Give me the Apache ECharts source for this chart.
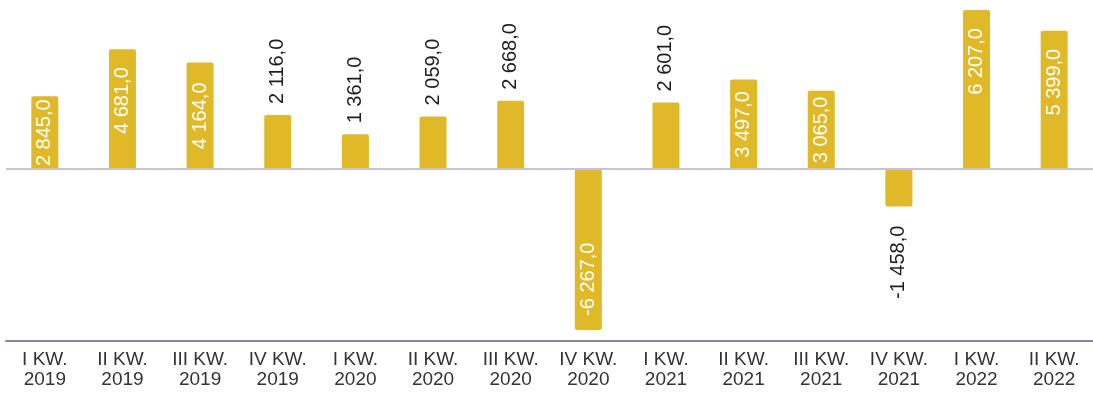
<!DOCTYPE html>
<html>
<head>
<meta charset="utf-8">
<script src="https://cdn.jsdelivr.net/npm/echarts@6/dist/echarts.min.js"></script>
<style>
  html, body { margin: 0; padding: 0; background: #ffffff; }
  #chart { width: 1093px; height: 397px; }
</style>
</head>
<body>
<div id="chart"></div>
<script>
// Quarter labels (two lines: quarter / year)
const quarters = ['I KW.', 'II KW.', 'III KW.', 'IV KW.', 'I KW.', 'II KW.', 'III KW.', 'IV KW.',
                  'I KW.', 'II KW.', 'III KW.', 'IV KW.', 'I KW.', 'II KW.'];
const years = ['2019', '2019', '2019', '2019', '2020', '2020', '2020', '2020',
               '2021', '2021', '2021', '2021', '2022', '2022'];
// Quarterly values
const values = [2845.0, 4681.0, 4164.0, 2116.0, 1361.0, 2059.0, 2668.0, -6267.0,
                2601.0, 3497.0, 3065.0, -1458.0, 6207.0, 5399.0];

const categories = quarters.map((q, i) => q + '\n' + years[i]);

const BAR = '#e0b929';
const FONT = 'Liberation Sans, Arial, sans-serif';
const INSIDE_MIN = 2700;   // bars at least this tall carry their label inside

function fmt(v) {
  const neg = v < 0;
  const a = Math.abs(v).toFixed(1).split('.');
  const int = a[0].replace(/\B(?=(\d{3})+(?!\d))/g, ' ');
  return (neg ? '-' : '') + int + ',' + a[1];
}

function labelFor(v) {
  const base = { show: true, rotate: 90, verticalAlign: 'middle', fontSize: 20,
                 fontFamily: FONT, formatter: p => fmt(p.value) };
  const inside = Math.abs(v) >= INSIDE_MIN;
  if (v >= 0) {
    if (inside) {
      if (v < 4500) return Object.assign(base, { position: 'inside', align: 'center', color: '#ffffff' });
      return Object.assign(base, { position: 'insideTop', align: 'right', distance: 18, color: '#ffffff' });
    }
    return Object.assign(base, { position: 'top', align: 'left', distance: 11, color: '#1e1e1e' });
  }
  if (inside) {
    return Object.assign(base, { position: 'insideBottom', align: 'left', distance: 14, color: '#ffffff' });
  }
  return Object.assign(base, { position: 'bottom', align: 'right', distance: 19, color: '#1e1e1e' });
}

const chart = echarts.init(document.getElementById('chart'), null, { renderer: 'canvas' });
chart.setOption({
  animation: false,
  grid: { left: 6, top: 0, width: 1099, height: 341, containLabel: false },
  xAxis: {
    type: 'category',
    data: categories,
    position: 'bottom',
    axisLine: { onZero: false, lineStyle: { color: '#8a88a0', width: 2 } },
    axisTick: { show: false },
    axisLabel: { color: '#333333', fontSize: 19, lineHeight: 20, margin: 9,
                 fontFamily: FONT, interval: 0 }
  },
  yAxis: {
    type: 'value',
    min: -6700,
    max: 6600,
    show: false,
    splitLine: { show: false }
  },
  series: [{
    type: 'bar',
    barWidth: 27,
    data: values.map(v => ({ value: v, label: labelFor(v) })),
    itemStyle: { color: BAR, borderRadius: 2 },
    markLine: {
      silent: true,
      symbol: 'none',
      label: { show: false },
      lineStyle: { color: '#c6c4d4', width: 2, type: 'solid' },
      data: [{ yAxis: 0 }]
    }
  }]
});
</script>
</body>
</html>
